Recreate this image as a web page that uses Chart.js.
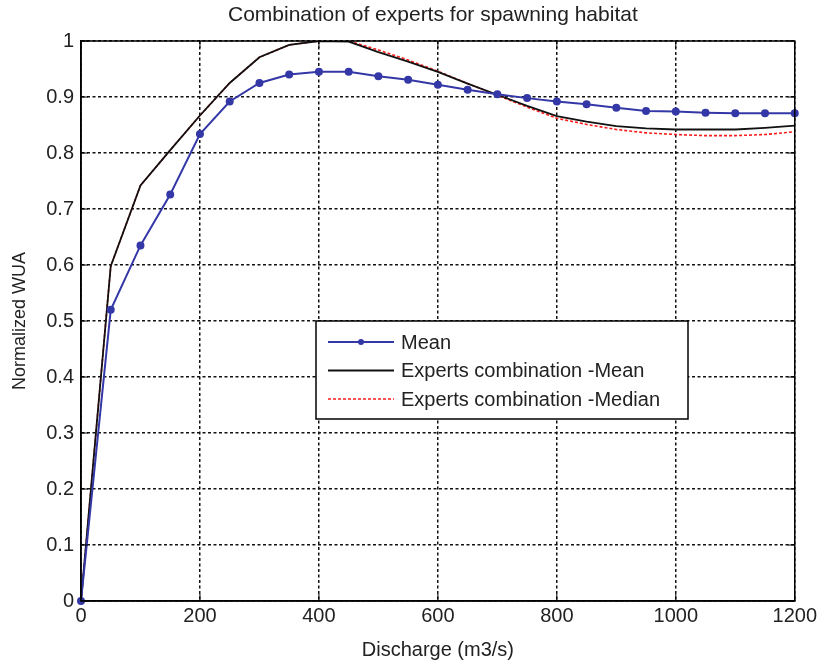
<!DOCTYPE html>
<html>
<head>
<meta charset="utf-8">
<script src="https://cdn.jsdelivr.net/npm/chart.js@4.4.0/dist/chart.umd.min.js"></script>
<style>
  html, body { margin: 0; padding: 0; background: #fff; }
  #wrap { width: 820px; height: 664px; }
</style>
</head>
<body>
<div id="wrap"><canvas id="wuaChart" width="820" height="664"></canvas></div>
<script>
const discharge = [0, 50, 100, 150, 200, 250, 300, 350, 400, 450, 500, 550, 600,
                   650, 700, 750, 800, 850, 900, 950, 1000, 1050, 1100, 1150, 1200];
const meanWua = [0, 0.52, 0.635, 0.726, 0.834, 0.892, 0.925, 0.94, 0.945, 0.945, 0.937, 0.931, 0.922,
                 0.913, 0.905, 0.898, 0.892, 0.887, 0.881, 0.875, 0.874, 0.872, 0.871, 0.871, 0.871];
const expertsMean = [0, 0.598, 0.742, 0.805, 0.867, 0.925, 0.971, 0.993, 1.0, 0.999, 0.98, 0.963, 0.945,
                     0.924, 0.904, 0.884, 0.866, 0.856, 0.848, 0.844, 0.842, 0.842, 0.842, 0.845, 0.849];
const expertsMedian = [0, 0.598, 0.742, 0.805, 0.867, 0.925, 0.971, 0.993, 1.0, 1.0, 0.984, 0.966, 0.946,
                       0.924, 0.903, 0.882, 0.862, 0.851, 0.842, 0.836, 0.833, 0.831, 0.831, 0.833, 0.838];
const seriesNames = ['Mean', 'Experts combination -Mean', 'Experts combination -Median'];
const xTicks = [0, 200, 400, 600, 800, 1000, 1200];
const chartTitle = 'Combination of experts for spawning habitat';

const FONT = 'Liberation Sans, Arial, Helvetica, sans-serif';
const TXT = '#222';

function pts(ys) {
    return discharge.map((x, i) => ({ x: x, y: ys[i] }));
}

// MATLAB-ish title over the axes, frame, inward ticks and the legend inside the plot
const matlabBox = {
    id: 'matlabBox',
    afterDraw(chart) {
        const { ctx, chartArea: a } = chart;
        const xs = chart.scales.x, ys = chart.scales.y;
        ctx.save();

        ctx.fillStyle = TXT;
        ctx.font = '21px ' + FONT;
        ctx.textAlign = 'center';
        ctx.textBaseline = 'middle';
        ctx.fillText(chartTitle, (a.left + a.right) / 2 - 5, 15);

        ctx.strokeStyle = '#000';
        ctx.lineWidth = 1.5;
        ctx.setLineDash([]);
        ctx.strokeRect(a.left, a.top, a.right - a.left, a.bottom - a.top);

        // small inward ticks
        ctx.lineWidth = 1;
        ctx.beginPath();
        xs.ticks.forEach(t => {
            const px = xs.getPixelForValue(t.value);
            ctx.moveTo(px, a.bottom); ctx.lineTo(px, a.bottom - 7);
            ctx.moveTo(px, a.top); ctx.lineTo(px, a.top + 7);
        });
        ys.ticks.forEach(t => {
            const py = ys.getPixelForValue(t.value);
            ctx.moveTo(a.left, py); ctx.lineTo(a.left + 7, py);
            ctx.moveTo(a.right, py); ctx.lineTo(a.right - 7, py);
        });
        ctx.stroke();

        // legend box
        const lx = a.left + 235, ly = a.top + 280, lw = 372, lh = 98;
        ctx.fillStyle = '#fff';
        ctx.fillRect(lx, ly, lw, lh);
        ctx.lineWidth = 1.5;
        ctx.strokeRect(lx, ly, lw, lh);

        const ds = chart.data.datasets;
        ctx.font = '20px ' + FONT;
        ctx.textAlign = 'left';
        ds.forEach((d, i) => {
            const y = ly + 21 + i * 28.5;
            ctx.strokeStyle = d.borderColor;
            ctx.lineWidth = d.borderWidth;
            ctx.setLineDash(d.borderDash || []);
            ctx.beginPath();
            ctx.moveTo(lx + 12, y);
            ctx.lineTo(lx + 78, y);
            ctx.stroke();
            ctx.setLineDash([]);
            if (d.pointRadius > 0) {
                ctx.fillStyle = d.pointBackgroundColor;
                ctx.beginPath();
                ctx.arc(lx + 45, y, d.pointRadius, 0, Math.PI * 2);
                ctx.fill();
            }
            ctx.fillStyle = TXT;
            ctx.fillText(d.label, lx + 85, y + 1);
        });
        ctx.restore();
    }
};

new Chart(document.getElementById('wuaChart').getContext('2d'), {
    type: 'line',
    data: {
        datasets: [
            {
                label: seriesNames[0],
                data: pts(meanWua),
                borderColor: '#3438a6',
                backgroundColor: '#3438a6',
                pointBackgroundColor: '#3438a6',
                pointBorderColor: '#3438a6',
                pointRadius: 3,
                borderWidth: 2,
                tension: 0,
                clip: 6
            },
            {
                label: seriesNames[1],
                data: pts(expertsMean),
                borderColor: '#111',
                borderWidth: 1.8,
                pointRadius: 0,
                tension: 0
            },
            {
                label: seriesNames[2],
                data: pts(expertsMedian),
                borderColor: '#ff1a1a',
                borderWidth: 1.6,
                borderDash: [3, 2],
                pointRadius: 0,
                tension: 0
            }
        ]
    },
    options: {
        responsive: false,
        animation: false,
        layout: { padding: { left: 0, right: 21, top: 41, bottom: 0 } },
        plugins: {
            legend: { display: false },
            tooltip: { enabled: false },
            title: { display: false }
        },
        scales: {
            x: {
                type: 'linear',
                min: 0,
                max: 1200,
                afterBuildTicks: s => { s.ticks = xTicks.map(v => ({ value: v })); },
                ticks: {
                    color: TXT,
                    font: { family: FONT, size: 20 },
                    padding: 3,
                    maxRotation: 0,
                    callback: v => String(v)
                },
                grid: { color: '#111', lineWidth: 1.5, drawTicks: false },
                border: { display: true, color: '#000', width: 1.5, dash: [3, 2.5] },
                title: {
                    display: true,
                    text: 'Discharge (m3/s)',
                    color: TXT,
                    font: { family: FONT, size: 20 },
                    padding: { top: 0, bottom: 2 }
                },
                afterFit: s => { s.height = 63; }
            },
            y: {
                min: 0,
                max: 1,
                ticks: {
                    stepSize: 0.1,
                    color: TXT,
                    font: { family: FONT, size: 20 },
                    padding: 7,
                    callback: v => String(+v.toFixed(1))
                },
                grid: { color: '#111', lineWidth: 1.5, drawTicks: false },
                border: { display: true, color: '#000', width: 1.5, dash: [3, 2.5] },
                title: {
                    display: true,
                    text: 'Normalized WUA',
                    color: TXT,
                    font: { family: FONT, size: 18 },
                    padding: { top: 9, bottom: 0 }
                },
                afterFit: s => { s.width = 81; }
            }
        }
    },
    plugins: [matlabBox]
});
</script>
</body>
</html>
